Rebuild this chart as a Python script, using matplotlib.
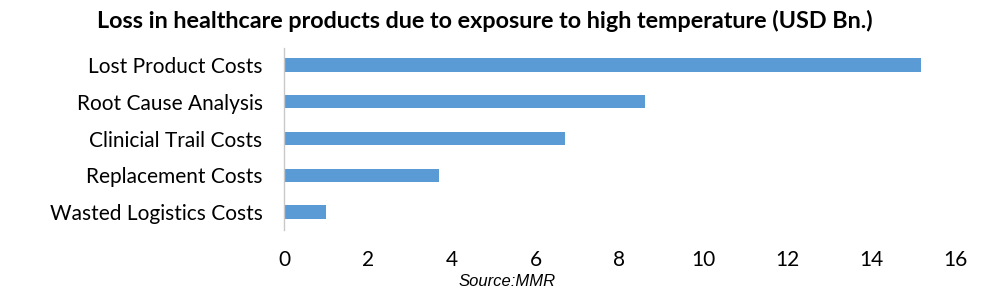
import matplotlib.pyplot as plt

categories = ["Lost Product Costs", "Root Cause Analysis", "Clinicial Trail Costs",
              "Replacement Costs", "Wasted Logistics Costs"]
values = [15.2, 8.6, 6.7, 3.7, 1.0]
xticks = [0, 2, 4, 6, 8, 10, 12, 14, 16]

plt.rcParams['font.family'] = ['Lato', 'DejaVu Sans']

fig = plt.figure(figsize=(9.9, 2.99), dpi=100)
ax = fig.add_axes([0.2869, 0.2294, 0.6777, 0.6147])

pos = list(range(len(categories)))
ax.barh(pos, values, height=0.36, color='#5b9bd5')
ax.set_ylim(len(categories) - 0.5, -0.5)
ax.set_xlim(0, 16)
ax.set_yticks(pos)
ax.set_yticklabels(categories, fontsize=15)
ax.set_xticks(xticks)
ax.set_xticklabels([str(t) for t in xticks], fontsize=15)
ax.tick_params(length=0)
ax.tick_params(axis='y', pad=15.5)
ax.tick_params(axis='x', pad=14)

for s in ['top', 'right', 'bottom']:
    ax.spines[s].set_visible(False)
ax.spines['left'].set_color('#c8c8c8')
ax.spines['left'].set_linestyle((0, (2, 1)))
ax.spines['left'].set_linewidth(1)

fig.text(0.49, 0.93, "Loss in healthcare products due to exposure to high temperature (USD Bn.)",
         ha='center', va='center', fontsize=16.8, fontweight='bold')
fig.text(0.512, 0.057, "Source:MMR", ha='center', va='center', fontsize=12,
         style='italic', family=['Liberation Sans', 'DejaVu Sans'])

fig.savefig('out.png', dpi=100)
